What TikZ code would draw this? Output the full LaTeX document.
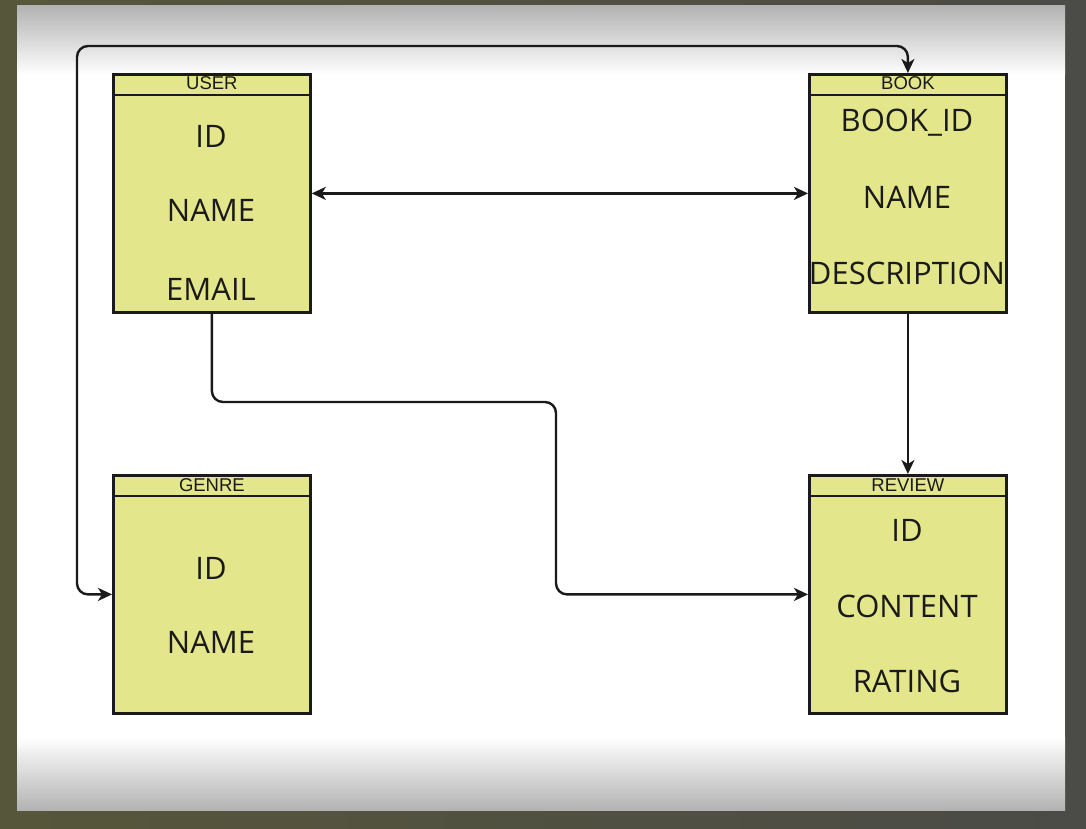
\documentclass[tikz,border=0pt]{standalone}
\usepackage{fontspec}
\setmainfont{Open Sans}
\newfontfamily\titlefont{Liberation Sans}
\usetikzlibrary{arrows.meta}
\definecolor{boxfill}{HTML}{E3E68A}
\definecolor{ink}{HTML}{1A1A1A}
\definecolor{outerL}{HTML}{56563B}
\definecolor{outerR}{HTML}{4B4B47}
\definecolor{panelgray}{HTML}{B3B3B3}
\tikzset{
  entity/.style={draw=ink, line width=2.8pt, fill=boxfill, minimum width=197pt, minimum height=238pt, inner sep=0pt, anchor=north west},
  hdr/.style={draw=ink, line width=2.4pt},
  etitle/.style={font=\titlefont\fontsize{18.5}{20}\selectfont, text=ink, anchor=base, inner sep=0pt},
  field/.style={font=\fontsize{31}{33}\selectfont, text=ink, anchor=base, inner sep=0pt},
  conn/.style={draw=ink, line width=2.4pt, rounded corners=11pt},
  tip/.tip={Stealth[length=14pt,width=13pt,inset=4pt]}
}
\begin{document}
\begin{tikzpicture}[x=1pt,y=-1pt]
\useasboundingbox (0,0) rectangle (1086,829);
\shade[left color=outerL, right color=outerR] (0,0) rectangle (1086,829);
\fill[white] (17,6) rectangle (1065,810);
\shade[top color=panelgray, bottom color=white] (17,6) rectangle (1065,75);
\shade[top color=white, bottom color=panelgray] (17,737) rectangle (1065,810);

% entities
\node[entity] (user) at (112,73) {};
\node[entity] (book) at (808,73) {};
\node[entity] (genre) at (112,474) {};
\node[entity] (review) at (808,474) {};

\foreach \e in {user,book,genre,review}{
  \draw[hdr] ([yshift=-22pt]\e.north west) -- ([yshift=-22pt]\e.north east);
}

\node[etitle] (userT) at ([yshift=-17pt]user.north) {USER};
\node[etitle] (bookT) at ([yshift=-17pt]book.north) {BOOK};
\node[etitle] (genreT) at ([yshift=-17pt]genre.north) {GENRE};
\node[etitle] (reviewT) at ([yshift=-17pt]review.north) {REVIEW};

% fields
\node[field] (u1) at (211,148) {ID};
\node[field] (u2) at (211,222) {NAME};
\node[field] (u3) at (211,300) {EMAIL};
\node[field] (b1) at (907,132) {BOOK\_ID};
\node[field] (b2) at (907,208) {NAME};
\node[field] (b3) at (907,284) {DESCRIPTION};
\node[field] (g1) at (211,579) {ID};
\node[field] (g2) at (211,653) {NAME};
\node[field] (r1) at (907,541) {ID};
\node[field] (r2) at (907,617) {CONTENT};
\node[field] (r3) at (907,692) {RATING};

% connectors
\draw[conn, tip-tip] (user.east) -- (book.west);
\coordinate (c2) at (556,402);
\coordinate (c1) at (user.south |- c2);
\coordinate (c3) at (c2 |- review.west);
\draw[conn, -tip] (user.south) -- (c1) -- (c2) -- (c3) -- (review.west);
\draw[conn, -tip] (book.south) -- (review.north);
\coordinate (d1) at (genre.west -| 77,0);
\coordinate (d3) at (book.north |- 0,46);
\coordinate (d2) at (d1 |- d3);
\draw[conn, tip-tip] (genre.west) -- (d1) -- (d2) -- (d3) -- (book.north);
\end{tikzpicture}
\end{document}
